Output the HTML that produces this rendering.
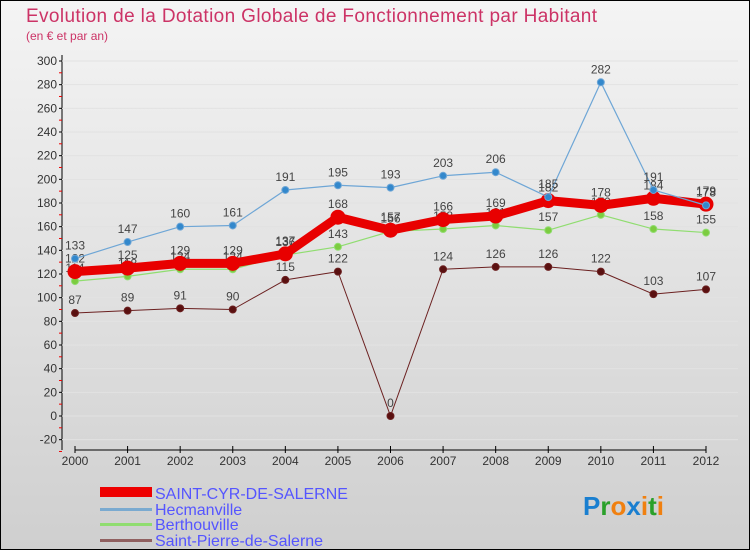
<!DOCTYPE html>
<html><head><meta charset="utf-8"><style>
body{margin:0;width:750px;height:550px;overflow:hidden;font-family:"Liberation Sans",sans-serif}
</style></head><body>
<svg id="c" width="750" height="550" xmlns="http://www.w3.org/2000/svg">
<defs><linearGradient id="bg" x1="0" y1="0" x2="0" y2="1"><stop offset="0" stop-color="#f4f4f4"/><stop offset="1" stop-color="#cfcfcf"/></linearGradient></defs>
<rect x="0.5" y="0.5" width="749" height="549" fill="url(#bg)" stroke="#000"/>
<text x="26" y="22" font-size="19" fill="#cc3366" textLength="571">Evolution de la Dotation Globale de Fonctionnement par Habitant</text>
<text x="26" y="40" font-size="12" fill="#cc3366">(en € et par an)</text>
<g id="axes"></g><g id="series"></g>
<g>
<rect x="100" y="487" width="52" height="10" fill="#e00"/>
<text x="155" y="499" font-size="16" fill="#5555ff">SAINT-CYR-DE-SALERNE</text>
<rect x="100" y="508" width="52" height="3" fill="#7aaad0"/>
<text x="155" y="515" font-size="16" fill="#5555ff">Hecmanville</text>
<rect x="100" y="523" width="52" height="3" fill="#90dd70"/>
<text x="155" y="530" font-size="16" fill="#5555ff">Berthouville</text>
<rect x="100" y="539" width="52" height="3" fill="#906060"/>
<text x="155" y="546" font-size="16" fill="#5555ff">Saint-Pierre-de-Salerne</text>
</g>
<g font-size="26" font-weight="bold">
<text x="583" y="515"><tspan fill="#1a7fd0">P</tspan><tspan fill="#2aa02a">r</tspan><tspan fill="#f08010">o</tspan><tspan fill="#1a7fd0">x</tspan><tspan fill="#f08010">i</tspan><tspan fill="#2aa02a">t</tspan><tspan fill="#f08010">i</tspan></text>
</g>
</svg>
<script>
const years=[2000,2001,2002,2003,2004,2005,2006,2007,2008,2009,2010,2011,2012];
const saintCyr=[122,125,129,129,137,168,157,166,169,182,178,184,179];
const hecmanville=[133,147,160,161,191,195,193,203,206,185,282,191,178];
const berthouville=[114,118,124,124,136,143,156,158,161,157,170,158,155];
const saintPierre=[87,89,91,90,115,122,0,124,126,126,122,103,107];
const yTicks=[-20,0,20,40,60,80,100,120,140,160,180,200,220,240,260,280,300];
const NS="http://www.w3.org/2000/svg";
const xs=i=>75+i*(706-75)/(years.length-1);
const ys=v=>416-v*(355/300);
function mk(t,a,p){const e=document.createElementNS(NS,t);for(const k in a)e.setAttribute(k,a[k]);p.appendChild(e);return e;}
const ax=document.getElementById('axes');
const yl=mk('line',{x1:62,y1:55,x2:62,y2:450,stroke:'#000'},ax);


yTicks.forEach(v=>{const y=ys(v);
const g=mk('line',{x1:62,x2:738,y1:y,y2:y,stroke:'#e2e2e2'},ax);


mk('line',{x1:59,x2:62,y1:y,y2:y,stroke:'#000'},ax);
mk('line',{x1:59,x2:62,y1:y+11.8,y2:y+11.8,stroke:'#e00'},ax);
const t=mk('text',{x:57,y:y+4,'font-size':12,'text-anchor':'end',fill:'#333'},ax);t.textContent=v;

});
const xl=mk('line',{x1:75,y1:450,x2:706,y2:450,stroke:'#000'},ax);


years.forEach((yr,i)=>{mk('line',{x1:xs(i),x2:xs(i),y1:446,y2:453,stroke:'#000'},ax);
const t=mk('text',{x:xs(i),y:465,'font-size':12,'text-anchor':'middle',fill:'#333'},ax);t.textContent=yr;

});
const sg=document.getElementById('series');
function draw(data,name,color,w,r,dot,lblOff){
const g=mk('g',{},sg);


mk('polyline',{points:data.map((v,i)=>xs(i)+','+ys(v)).join(' '),fill:'none',stroke:color,'stroke-width':w,'stroke-linejoin':'round'},g);
data.forEach((v,i)=>{const c=mk('circle',{cx:xs(i),cy:ys(v),r:r,fill:dot,stroke:color,'stroke-width':1},g);


const t=mk('text',{x:xs(i),y:ys(v)-lblOff,'font-size':12,'text-anchor':'middle',fill:'#444'},g);t.textContent=v;

});}
draw(saintPierre,'saint-pierre','#6b2020',1,3.5,'#5a1010',9);
draw(berthouville,'berthouville','#90dd70',1.2,3.5,'#7ccc40',9);
draw(saintCyr,'saint-cyr','#e80000',9,7,'#e80000',9);
draw(hecmanville,'hecmanville','#6ea6d6',1.2,3.5,'#3388cc',9);
</script>
</body></html>
